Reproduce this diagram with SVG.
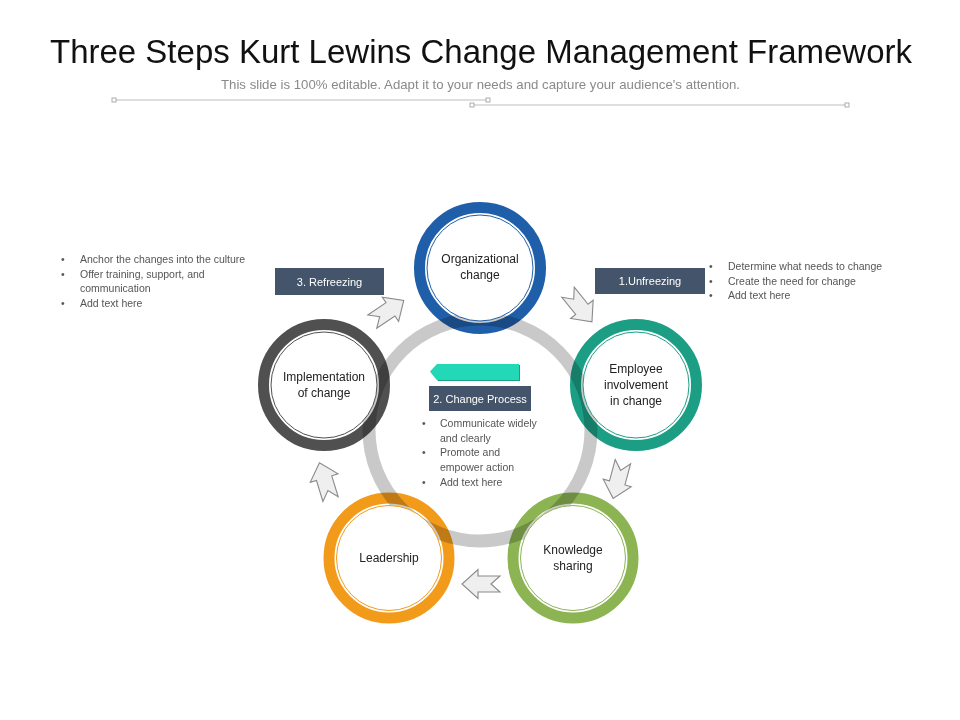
<svg xmlns="http://www.w3.org/2000/svg" width="960" height="720" viewBox="0 0 960 720">
<style>
text{font-family:"Liberation Sans",Arial,sans-serif}
.title{font-size:34px;fill:#111}
.sub{font-size:13px;fill:#8a8a8a}
.lbl{font-size:12px;fill:#222;text-anchor:middle}
.bul{font-size:10.5px;fill:#555}
.box{fill:#44546a}
.boxt{font-size:11px;fill:#fff;text-anchor:middle}
.ring{fill:none;stroke-width:11;mix-blend-mode:multiply}
.inner{fill:#fff;stroke-width:1}
.arr{fill:#efefef;stroke:#8a8a8a;stroke-width:1.1}
.hl{stroke:#bdbdbd;stroke-width:1;fill:none}
.hs{fill:#fff;stroke:#9a9a9a;stroke-width:0.8}
</style>
<defs>
<path id="arrow" d="M-19,-8 L3,-8 L3,-14.5 L19,0 L3,14.5 L3,8 L-19,8 L-10,0 Z"/>
</defs>
<rect width="960" height="720" fill="#fff"/>
<g id="header">
<text class="title" x="50" y="63" textLength="862" lengthAdjust="spacingAndGlyphs">Three Steps Kurt Lewins Change Management Framework</text>
<text class="sub" x="221" y="89" textLength="519" lengthAdjust="spacingAndGlyphs">This slide is 100% editable. Adapt it to your needs and capture your audience's attention.</text>
<line class="hl" x1="114" y1="100" x2="488" y2="100"/>
<rect class="hs" x="112" y="98" width="4" height="4"/>
<rect class="hs" x="486" y="98" width="4" height="4"/>
<line class="hl" x1="472" y1="105" x2="847" y2="105"/>
<rect class="hs" x="470" y="103" width="4" height="4"/>
<rect class="hs" x="845" y="103" width="4" height="4"/>
</g>
<g id="center-ring">
<circle cx="480" cy="430" r="111" fill="#fff" stroke="#c9c9c9" stroke-width="13"/>
</g>
<g id="node-org">
<circle class="ring" cx="480" cy="268" r="60.5" stroke="#1f5ea8"/>
<circle class="inner" cx="480" cy="268" r="53" stroke="#1f5ea8"/>
<text class="lbl" x="480" y="263">Organizational</text>
<text class="lbl" x="480" y="279">change</text>
</g>
<g id="node-employee">
<circle class="ring" cx="636" cy="385" r="60.5" stroke="#1c9e85"/>
<circle class="inner" cx="636" cy="385" r="53" stroke="#1c9e85"/>
<text class="lbl" x="636" y="373">Employee</text>
<text class="lbl" x="636" y="389">involvement</text>
<text class="lbl" x="636" y="405">in change</text>
</g>
<g id="node-knowledge">
<circle class="ring" cx="573" cy="558" r="60" stroke="#8cb453"/>
<circle class="inner" cx="573" cy="558" r="52.5" stroke="#8cb453"/>
<text class="lbl" x="573" y="554">Knowledge</text>
<text class="lbl" x="573" y="570">sharing</text>
</g>
<g id="node-leadership">
<circle class="ring" cx="389" cy="558" r="60" stroke="#f29b1b"/>
<circle class="inner" cx="389" cy="558" r="52.5" stroke="#f29b1b"/>
<text class="lbl" x="389" y="562">Leadership</text>
</g>
<g id="node-implementation">
<circle class="ring" cx="324" cy="385" r="60.5" stroke="#505050"/>
<circle class="inner" cx="324" cy="385" r="53" stroke="#505050"/>
<text class="lbl" x="324" y="381">Implementation</text>
<text class="lbl" x="324" y="397">of change</text>
</g>
<g id="connectors">
<use href="#arrow" class="arr" transform="translate(580,307) rotate(51)"/>
<use href="#arrow" class="arr" transform="translate(618,480) rotate(105)"/>
<use href="#arrow" class="arr" transform="translate(481,584) rotate(180)"/>
<use href="#arrow" class="arr" transform="translate(325,481) rotate(-107)"/>
<use href="#arrow" class="arr" transform="translate(388,311) rotate(-34)"/>
</g>
<g id="refreezing">
<rect class="box" x="275" y="268" width="109" height="27"/>
<text class="boxt" x="329.5" y="286">3. Refreezing</text>
<g class="bul">
<text x="61" y="263">•</text><text x="80" y="263">Anchor the changes into the culture</text>
<text x="61" y="278">•</text><text x="80" y="278">Offer training,  support,  and</text>
<text x="80" y="292">communication</text>
<text x="61" y="307">•</text><text x="80" y="307">Add text here</text>
</g>
</g>
<g id="unfreezing">
<rect class="box" x="595" y="268" width="110" height="26"/>
<text class="boxt" x="650" y="285">1.Unfreezing</text>
<g class="bul">
<text x="709" y="270">•</text><text x="728" y="270">Determine what needs to change</text>
<text x="709" y="285">•</text><text x="728" y="285">Create the need for change</text>
<text x="709" y="299">•</text><text x="728" y="299">Add text here</text>
</g>
</g>
<g id="change-process">
<path d="M431,372.5 L438,365 L520,365 L520,381 L438,381 Z" fill="#1b9e88"/>
<path d="M430,371.5 L437,364 L519,364 L519,380 L437,380 Z" fill="#22d8b6"/>
<rect class="box" x="429" y="386" width="102" height="25"/>
<text class="boxt" x="480" y="403">2. Change Process</text>
<g class="bul">
<text x="422" y="427">•</text><text x="440" y="427">Communicate  widely</text>
<text x="440" y="442">and clearly</text>
<text x="422" y="456">•</text><text x="440" y="456">Promote and</text>
<text x="440" y="471">empower action</text>
<text x="422" y="486">•</text><text x="440" y="486">Add text here</text>
</g>
</g>
</svg>
